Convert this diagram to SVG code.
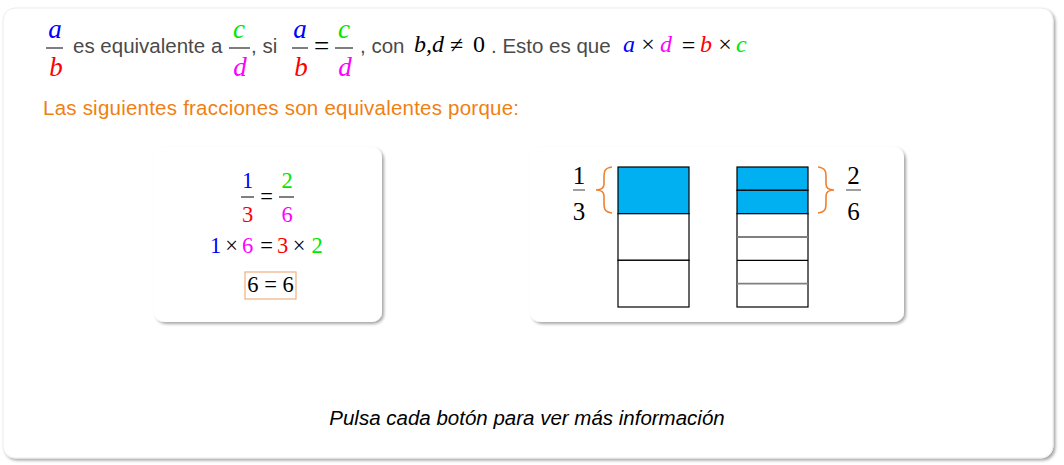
<svg xmlns="http://www.w3.org/2000/svg" width="1064" height="465" viewBox="0 0 1064 465">
  <defs>
    <filter id="sh" x="-5%" y="-5%" width="112%" height="115%">
      <feDropShadow dx="2" dy="2" stdDeviation="1.6" flood-color="#000" flood-opacity="0.35"/>
    </filter>
  </defs>
  <style>
    .sans { font-family: "Liberation Sans", Arial, sans-serif; font-size: 20.5px; fill: #4a4a4a; }
    .ser { font-family: "Liberation Serif", "Times New Roman", serif; fill: #000; }
    .it { font-style: italic; }
    .big { font-size: 27px; }
    .mid { font-size: 22.5px; }
    .inl { font-size: 24px; }
    .lg { font-size: 25px; }
    .fr { stroke: #555; stroke-width: 1.5; }
    .frg { stroke: #808080; stroke-width: 2; }
    .blue { fill: #0000ff; }
    .red { fill: #ff0000; }
    .green { fill: #00e600; }
    .mag { fill: #ff00ff; }
    .card { fill: #fff; filter: url(#sh); }
    .cell { fill: #fff; stroke: #000; stroke-width: 1.2; }
    .fill { fill: #00b0f0; stroke: #000; stroke-width: 1.2; }
    .brace { fill: none; stroke: #f08030; stroke-width: 1.6; }
  </style>

  <rect width="1064" height="465" fill="#fff"/>
  <g id="container">
    <rect x="3" y="8" width="1050" height="450" rx="12" fill="#fff" stroke="#ececec" stroke-width="1" filter="url(#sh)"/>
  </g>

  <g id="header">
    <!-- a/b -->
    <text x="55" y="38" text-anchor="middle" class="ser it big blue">a</text>
    <line x1="46" y1="48" x2="63" y2="48" class="fr"/>
    <text x="56" y="76" text-anchor="middle" class="ser it big red">b</text>
    <text x="73" y="53" class="sans">es equivalente a</text>
    <!-- c/d -->
    <text x="239" y="38" text-anchor="middle" class="ser it big green">c</text>
    <line x1="229" y1="48" x2="250" y2="48" class="fr"/>
    <text x="240" y="76" text-anchor="middle" class="ser it big mag">d</text>
    <text x="251" y="53" class="sans">, si</text>
    <!-- a/b = c/d -->
    <text x="300" y="38" text-anchor="middle" class="ser it big blue">a</text>
    <line x1="292" y1="48" x2="308" y2="48" class="fr"/>
    <text x="301" y="76" text-anchor="middle" class="ser it big red">b</text>
    <text x="321.5" y="55" text-anchor="middle" class="ser big">=</text>
    <text x="344" y="38" text-anchor="middle" class="ser it big green">c</text>
    <line x1="335" y1="48" x2="353" y2="48" class="fr"/>
    <text x="345" y="76" text-anchor="middle" class="ser it big mag">d</text>
    <text x="360" y="53" class="sans">, con</text>
    <text x="414" y="52" class="ser it inl">b,d</text>
    <text x="456.5" y="53" text-anchor="middle" class="ser inl">≠</text>
    <text x="473" y="52" class="ser inl">0</text>
    <text x="491" y="53" class="sans">. Esto es que</text>
    <text x="623" y="52" class="ser it inl blue">a</text>
    <text x="648" y="52" text-anchor="middle" class="ser inl">×</text>
    <text x="660" y="52" class="ser it inl mag">d</text>
    <text x="688.5" y="53" text-anchor="middle" class="ser inl">=</text>
    <text x="700" y="52" class="ser it inl red">b</text>
    <text x="725" y="52" text-anchor="middle" class="ser inl">×</text>
    <text x="736" y="52" class="ser it inl green">c</text>
  </g>

  <g id="subtitle">
    <text x="43" y="115" class="sans" style="fill:#f07f12" textLength="476" lengthAdjust="spacing">Las siguientes fracciones son equivalentes porque:</text>
  </g>

  <g id="card-arith">
    <rect x="154" y="147" width="228" height="175" rx="10" class="card"/>
    <text x="247.5" y="188" text-anchor="middle" class="ser mid blue">1</text>
    <line x1="241" y1="197" x2="254" y2="197" class="frg"/>
    <text x="247.5" y="222" text-anchor="middle" class="ser mid red">3</text>
    <text x="266.5" y="204" text-anchor="middle" class="ser mid">=</text>
    <text x="287" y="188" text-anchor="middle" class="ser mid green">2</text>
    <line x1="279" y1="197" x2="294" y2="197" class="frg"/>
    <text x="287" y="222" text-anchor="middle" class="ser mid mag">6</text>

    <text x="215.5" y="253" text-anchor="middle" class="ser mid blue">1</text>
    <text x="231.5" y="253" text-anchor="middle" class="ser mid">×</text>
    <text x="247.5" y="253" text-anchor="middle" class="ser mid mag">6</text>
    <text x="266.5" y="253" text-anchor="middle" class="ser mid">=</text>
    <text x="282.5" y="253" text-anchor="middle" class="ser mid red">3</text>
    <text x="299" y="253" text-anchor="middle" class="ser mid">×</text>
    <text x="317" y="253" text-anchor="middle" class="ser mid green">2</text>

    <rect x="245" y="272" width="51" height="27" fill="none" stroke="#f0b080" stroke-width="1.2"/>
    <text x="270.5" y="292" text-anchor="middle" class="ser mid">6 = 6</text>
  </g>

  <g id="card-bars">
    <rect x="530" y="147" width="374" height="175" rx="10" class="card"/>
    <!-- left fraction 1/3 -->
    <text x="579" y="184" text-anchor="middle" class="ser lg">1</text>
    <line x1="573" y1="190" x2="585" y2="190" class="frg" style="stroke-width:1.5"/>
    <text x="579" y="220" text-anchor="middle" class="ser lg">3</text>
    <path class="brace" d="M612,167 C604,168 604,172 604,178 L604,184 C604,188 601,190 596,190 C601,190 604,192 604,196 L604,202 C604,208 604,212 612,213"/>
    <!-- left bar: thirds -->
    <rect x="618" y="167" width="71" height="46.7" class="fill"/>
    <rect x="618" y="213.7" width="71" height="46.6" class="cell"/>
    <rect x="618" y="260.3" width="71" height="46.7" class="cell"/>
    <!-- right bar: sixths -->
    <rect x="737" y="167" width="71" height="23.3" class="fill"/>
    <rect x="737" y="190.3" width="71" height="23.4" class="fill"/>
    <rect x="737" y="213.7" width="71" height="93.3" class="cell"/>
    <line x1="737" y1="260.3" x2="808" y2="260.3" stroke="#000" stroke-width="1.2"/>
    <line x1="737" y1="237" x2="808" y2="237" stroke="#808080" stroke-width="1.8"/>
    <line x1="737" y1="283.7" x2="808" y2="283.7" stroke="#808080" stroke-width="1.8"/>
    <path class="brace" d="M818,167 C826,168 826,172 826,178 L826,184 C826,188 829,190 834,190 C829,190 826,192 826,196 L826,202 C826,208 826,212 818,213"/>
    <!-- right fraction 2/6 -->
    <text x="853.5" y="184" text-anchor="middle" class="ser lg">2</text>
    <line x1="846" y1="190" x2="861" y2="190" class="frg" style="stroke-width:1.5"/>
    <text x="853.5" y="220" text-anchor="middle" class="ser lg">6</text>
  </g>

  <g id="footer">
    <text x="527" y="425" text-anchor="middle" class="sans" style="fill:#000;font-style:italic">Pulsa cada botón para ver más información</text>
  </g>
</svg>
